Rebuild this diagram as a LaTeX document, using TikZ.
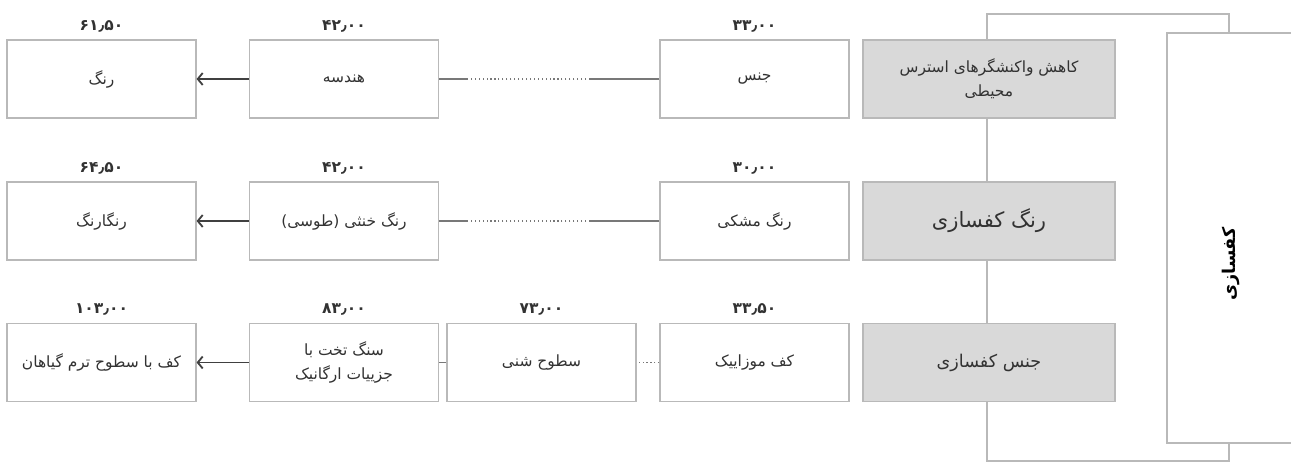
\documentclass[tikz,border=0pt]{standalone}
\usepackage{fontspec}
\newfontfamily\farsi[Script=Arabic]{DejaVu Sans}
\TeXXeTstate=1
\usetikzlibrary{arrows.meta,positioning}
\definecolor{boxline}{RGB}{185,185,185}
\definecolor{boxgray}{RGB}{217,217,217}
\definecolor{linkline}{RGB}{120,120,120}
\definecolor{textgray}{RGB}{50,50,50}

\begin{document}
\begin{tikzpicture}[x=0.025cm,y=-0.025cm,
  cell/.style={draw=boxline,line width=0.8pt,fill=white,minimum width=4.725cm,minimum height=1.95cm,inner sep=0pt,align=center,text=textgray,font=\farsi\fontsize{11}{17}\selectfont},
  graycell/.style={cell,fill=boxgray,minimum width=6.3cm},
  num/.style={inner sep=1pt,text=textgray,font=\farsi\bfseries\fontsize{11}{13}\selectfont},
  link/.style={draw=linkline,line width=0.8pt},
  arrowlink/.style={draw=black!75,line width=1.3pt,-{Straight Barb[length=3.5pt,width=8.5pt]}}]

\useasboundingbox (0,0) rectangle (1291,464);

\node[draw=boxline,line width=0.8pt,minimum width=3.2cm,minimum height=10.25cm,inner sep=0pt,
  font=\farsi\bfseries\fontsize{12.5}{14}\selectfont] (kaf) at (1231,238) {\rotatebox{90}{\beginR کفسازی\endR\hspace*{1.3cm}}};

\coordinate (brtop) at (987,14);
\coordinate (brbot) at (987,461);
\coordinate (brtr) at (1229,14);
\coordinate (brbr) at (1229,461);
\draw[link,draw=boxline] (kaf.north -| brtr) -- (brtr) -- (brtop) -- (brbot) -- (brbr) -- (kaf.south -| brbr);

\node[graycell] (stress) at (989,79) {\beginR کاهش واکنشگرهای استرس\endR\\\beginR محیطی\endR};
\node[graycell,font=\farsi\fontsize{15}{18}\selectfont] (rangkaf) at (989,221) {\beginR رنگ کفسازی\endR};
\node[graycell,font=\farsi\fontsize{12.5}{16}\selectfont] (jenskaf) at (989,362.5) {\beginR جنس کفسازی\endR};

\node[cell] (jens) at (754.5,79) {\beginR جنس\endR};
\node[cell] (hendese) at (344,79) {\beginR هندسه\endR};
\node[cell] (rang) at (101.5,79) {\beginR رنگ\endR};

\node[cell] (meshki) at (754.5,221) {\beginR رنگ مشکی\endR};
\node[cell] (khonsa) at (344,221) {\beginR رنگ خنثی (طوسی)\endR};
\node[cell] (rangarang) at (101.5,221) {\beginR رنگارنگ\endR};

\node[cell] (mozaik) at (754.5,362.5) {\beginR کف موزاییک\endR};
\node[cell] (shen) at (541.5,362.5) {\beginR سطوح شنی\endR};
\node[cell] (sang) at (344,362.5) {\beginR سنگ تخت با\endR\\\beginR جزییات ارگانیک\endR};
\node[cell] (kafnarm) at (101.5,362.5) {\beginR کف با سطوح ترم گیاهان\endR};

\node[num,above=4pt of jens] (njens) {۳۳٫۰۰};
\node[num,above=4pt of hendese] (nhendese) {۴۲٫۰۰};
\node[num,above=4pt of rang] (nrang) {۶۱٫۵۰};
\node[num,above=4pt of meshki] (nmeshki) {۳۰٫۰۰};
\node[num,above=4pt of khonsa] (nkhonsa) {۴۲٫۰۰};
\node[num,above=4pt of rangarang] (nrangarang) {۶۴٫۵۰};
\node[num,above=4pt of mozaik] (nmozaik) {۳۳٫۵۰};
\node[num,above=4pt of shen] (nshen) {۷۳٫۰۰};
\node[num,above=4pt of sang] (nsang) {۸۳٫۰۰};
\node[num,above=4pt of kafnarm] (nkafnarm) {۱۰۳٫۰۰};

\foreach \a/\b/\c/\y in {jens/hendese/rang/79,meshki/khonsa/rangarang/221}
{
\coordinate (\a r) at (590,\y);
\coordinate (\a l) at (467,\y);
\draw[link] (\a.west) -- (\a r);
\draw[link,dotted] (\a r) -- (\a l);
\draw[link] (\a l) -- (\b.east);
\draw[arrowlink] (\b.west) -- (\c.east);
}

\draw[link,dotted] (mozaik.west) -- (shen.east);
\draw[link] (shen.west) -- (sang.east);
\draw[arrowlink] (sang.west) -- (kafnarm.east);
\end{tikzpicture}
\end{document}
